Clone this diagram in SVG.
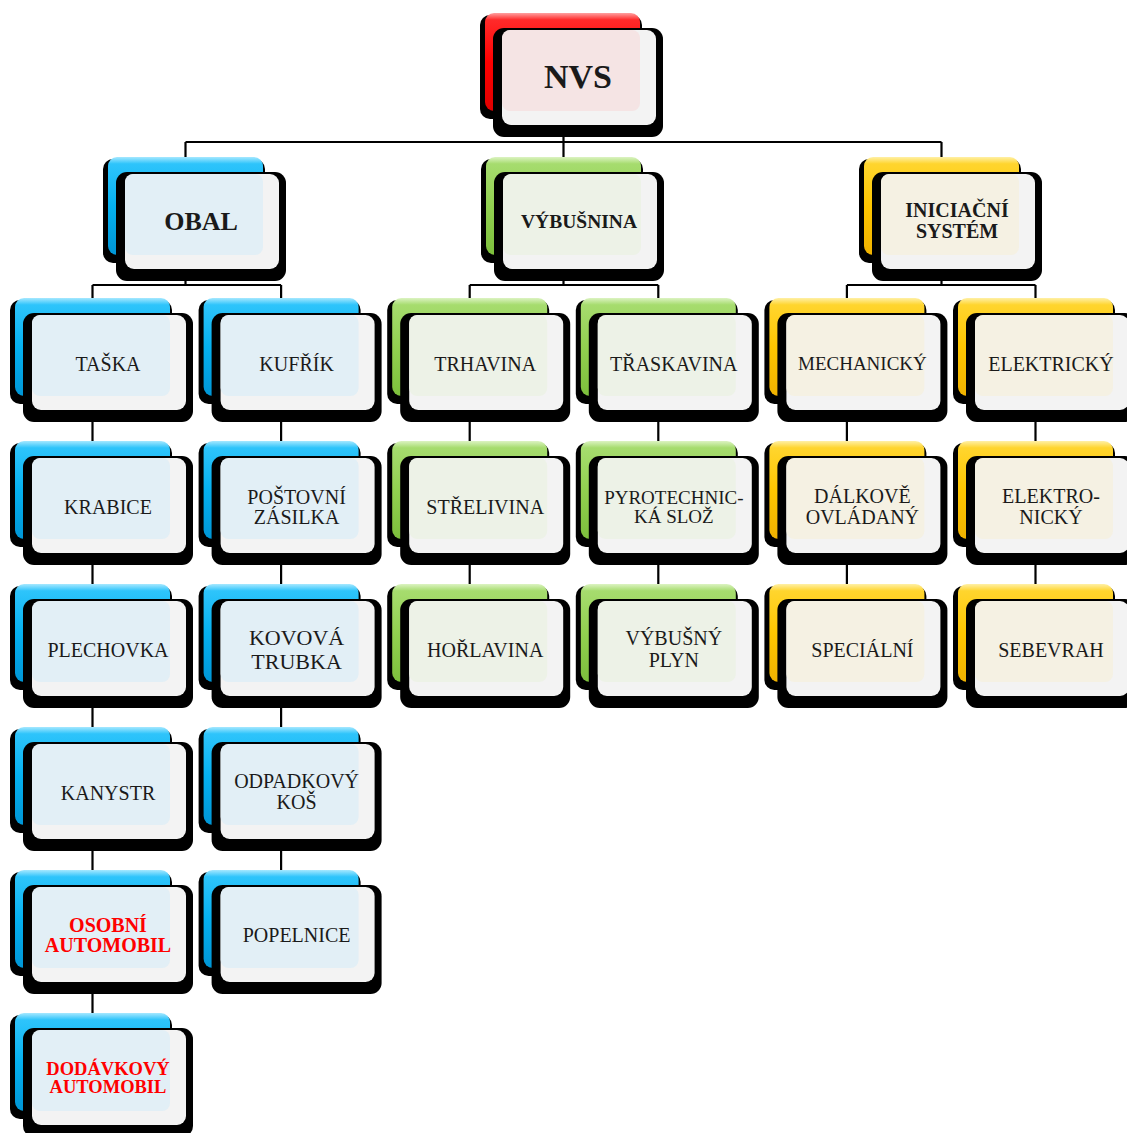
<svg xmlns="http://www.w3.org/2000/svg" xmlns:xlink="http://www.w3.org/1999/xlink" width="1127" height="1133" viewBox="0 0 1127 1133">
<defs>
<linearGradient id="gBlue" x1="0" y1="0" x2="0" y2="1">
<stop offset="0" stop-color="#a6e8ff"/><stop offset="0.07" stop-color="#2ec4fb"/><stop offset="0.5" stop-color="#05b1f0"/><stop offset="1" stop-color="#0096d6"/>
</linearGradient>
<linearGradient id="gRed" x1="0" y1="0" x2="0" y2="1">
<stop offset="0" stop-color="#ffa0a0"/><stop offset="0.07" stop-color="#ff2a2a"/><stop offset="0.5" stop-color="#ff0000"/><stop offset="1" stop-color="#e00000"/>
</linearGradient>
<linearGradient id="gGreen" x1="0" y1="0" x2="0" y2="1">
<stop offset="0" stop-color="#dcf3c2"/><stop offset="0.07" stop-color="#a6dc6e"/><stop offset="0.5" stop-color="#92d050"/><stop offset="1" stop-color="#7dbf3c"/>
</linearGradient>
<linearGradient id="gYellow" x1="0" y1="0" x2="0" y2="1">
<stop offset="0" stop-color="#fff0a6"/><stop offset="0.07" stop-color="#ffd52e"/><stop offset="0.5" stop-color="#ffc600"/><stop offset="1" stop-color="#f0b200"/>
</linearGradient>
</defs>
<style>
.sh{fill:#000}
.fr{fill:#f3f3f3}
.blue .bk{fill:url(#gBlue)} .blue .tn{fill:#e2eff6}
.red .bk{fill:url(#gRed)} .red .tn{fill:#f5e4e4}
.green .bk{fill:url(#gGreen)} .green .tn{fill:#edf2e7}
.yellow .bk{fill:url(#gYellow)} .yellow .tn{fill:#f5f1e3}
.t{font-family:"Liberation Serif","Times New Roman",serif;font-size:20px;fill:#1a1a1a;text-anchor:middle}
.b{font-weight:bold}
.rt{fill:#ff0000}
#connectors path{stroke:#000;stroke-width:2.2;fill:none}
</style>

<g id="connectors">
<path d="M563.5,100 V142 M185.5,142 H941.5 M185.5,142 V170 M563.5,142 V170 M941.5,142 V170"/>
<path d="M185.5,250 V285 M92.5,285 H281.1 M92.5,285 V310 M281.1,285 V310"/>
<path d="M563.5,250 V285 M469.7,285 H658.3 M469.7,285 V310 M658.3,285 V310"/>
<path d="M941.5,250 V285 M846.9,285 H1035.5 M846.9,285 V310 M1035.5,285 V310"/>
<path d="M92.5,350 V1050 M281.1,350 V920 M469.7,350 V640 M658.3,350 V640 M846.9,350 V640 M1035.5,350 V640"/>
</g>

<g id="n-nvs" class="red" transform="translate(485,13)">
<rect class="sh" x="-5" y="2" width="162" height="104" rx="10"/><rect class="bk" width="155" height="98" rx="9"/><rect class="sh" x="8" y="15" width="170" height="109" rx="11"/><rect class="fr" x="17" y="17" width="154" height="95" rx="9"/><rect class="tn" x="17" y="17" width="138" height="81" rx="8"/>
<text class="t b" x="93" y="75" style="font-size:34px">NVS</text>
</g>

<g id="n-obal" class="blue" transform="translate(108,157)">
<rect class="sh" x="-5" y="2" width="162" height="104" rx="10"/><rect class="bk" width="155" height="98" rx="9"/><rect class="sh" x="8" y="15" width="170" height="109" rx="11"/><rect class="fr" x="17" y="17" width="154" height="95" rx="9"/><rect class="tn" x="17" y="17" width="138" height="81" rx="8"/>
<text class="t b" x="93" y="73" style="font-size:26px">OBAL</text>
</g>

<g id="n-vybusnina" class="green" transform="translate(486,157)">
<rect class="sh" x="-5" y="2" width="162" height="104" rx="10"/><rect class="bk" width="155" height="98" rx="9"/><rect class="sh" x="8" y="15" width="170" height="109" rx="11"/><rect class="fr" x="17" y="17" width="154" height="95" rx="9"/><rect class="tn" x="17" y="17" width="138" height="81" rx="8"/>
<text class="t b" x="93" y="71" style="font-size:19.5px">VÝBUŠNINA</text>
</g>

<g id="n-iniciacni" class="yellow" transform="translate(864,157)">
<rect class="sh" x="-5" y="2" width="162" height="104" rx="10"/><rect class="bk" width="155" height="98" rx="9"/><rect class="sh" x="8" y="15" width="170" height="109" rx="11"/><rect class="fr" x="17" y="17" width="154" height="95" rx="9"/><rect class="tn" x="17" y="17" width="138" height="81" rx="8"/>
<text class="t b" x="93" y="60" style="font-size:20px">INICIAČNÍ</text>
<text class="t b" x="93" y="81" style="font-size:20px">SYSTÉM</text>
</g>

<!-- Column A -->
<g id="n-taska" class="blue" transform="translate(15,298)">
<rect class="sh" x="-5" y="2" width="162" height="104" rx="10"/><rect class="bk" width="155" height="98" rx="9"/><rect class="sh" x="8" y="15" width="170" height="109" rx="11"/><rect class="fr" x="17" y="17" width="154" height="95" rx="9"/><rect class="tn" x="17" y="17" width="138" height="81" rx="8"/>
<text class="t" x="93" y="73">TAŠKA</text>
</g>
<g id="n-krabice" class="blue" transform="translate(15,441)">
<rect class="sh" x="-5" y="2" width="162" height="104" rx="10"/><rect class="bk" width="155" height="98" rx="9"/><rect class="sh" x="8" y="15" width="170" height="109" rx="11"/><rect class="fr" x="17" y="17" width="154" height="95" rx="9"/><rect class="tn" x="17" y="17" width="138" height="81" rx="8"/>
<text class="t" x="93" y="73">KRABICE</text>
</g>
<g id="n-plechovka" class="blue" transform="translate(15,584)">
<rect class="sh" x="-5" y="2" width="162" height="104" rx="10"/><rect class="bk" width="155" height="98" rx="9"/><rect class="sh" x="8" y="15" width="170" height="109" rx="11"/><rect class="fr" x="17" y="17" width="154" height="95" rx="9"/><rect class="tn" x="17" y="17" width="138" height="81" rx="8"/>
<text class="t" x="93" y="73">PLECHOVKA</text>
</g>
<g id="n-kanystr" class="blue" transform="translate(15,727)">
<rect class="sh" x="-5" y="2" width="162" height="104" rx="10"/><rect class="bk" width="155" height="98" rx="9"/><rect class="sh" x="8" y="15" width="170" height="109" rx="11"/><rect class="fr" x="17" y="17" width="154" height="95" rx="9"/><rect class="tn" x="17" y="17" width="138" height="81" rx="8"/>
<text class="t" x="93" y="73">KANYSTR</text>
</g>
<g id="n-osobni" class="blue" transform="translate(15,870)">
<rect class="sh" x="-5" y="2" width="162" height="104" rx="10"/><rect class="bk" width="155" height="98" rx="9"/><rect class="sh" x="8" y="15" width="170" height="109" rx="11"/><rect class="fr" x="17" y="17" width="154" height="95" rx="9"/><rect class="tn" x="17" y="17" width="138" height="81" rx="8"/>
<text class="t b rt" x="93" y="62" style="font-size:20px">OSOBNÍ</text>
<text class="t b rt" x="93" y="82" style="font-size:20px">AUTOMOBIL</text>
</g>
<g id="n-dodavkovy" class="blue" transform="translate(15,1013)">
<rect class="sh" x="-5" y="2" width="162" height="104" rx="10"/><rect class="bk" width="155" height="98" rx="9"/><rect class="sh" x="8" y="15" width="170" height="109" rx="11"/><rect class="fr" x="17" y="17" width="154" height="95" rx="9"/><rect class="tn" x="17" y="17" width="138" height="81" rx="8"/>
<text class="t b rt" x="93" y="62" style="font-size:18.5px">DODÁVKOVÝ</text>
<text class="t b rt" x="93" y="80" style="font-size:18.5px">AUTOMOBIL</text>
</g>

<!-- Column B -->
<g id="n-kufrik" class="blue" transform="translate(203.6,298)">
<rect class="sh" x="-5" y="2" width="162" height="104" rx="10"/><rect class="bk" width="155" height="98" rx="9"/><rect class="sh" x="8" y="15" width="170" height="109" rx="11"/><rect class="fr" x="17" y="17" width="154" height="95" rx="9"/><rect class="tn" x="17" y="17" width="138" height="81" rx="8"/>
<text class="t" x="93" y="73">KUFŘÍK</text>
</g>
<g id="n-postovni" class="blue" transform="translate(203.6,441)">
<rect class="sh" x="-5" y="2" width="162" height="104" rx="10"/><rect class="bk" width="155" height="98" rx="9"/><rect class="sh" x="8" y="15" width="170" height="109" rx="11"/><rect class="fr" x="17" y="17" width="154" height="95" rx="9"/><rect class="tn" x="17" y="17" width="138" height="81" rx="8"/>
<text class="t" x="93" y="63">POŠTOVNÍ</text>
<text class="t" x="93" y="83">ZÁSILKA</text>
</g>
<g id="n-kovova" class="blue" transform="translate(203.6,584)">
<rect class="sh" x="-5" y="2" width="162" height="104" rx="10"/><rect class="bk" width="155" height="98" rx="9"/><rect class="sh" x="8" y="15" width="170" height="109" rx="11"/><rect class="fr" x="17" y="17" width="154" height="95" rx="9"/><rect class="tn" x="17" y="17" width="138" height="81" rx="8"/>
<text class="t" x="93" y="61" style="font-size:22px">KOVOVÁ</text>
<text class="t" x="93" y="85" style="font-size:22px">TRUBKA</text>
</g>
<g id="n-odpadkovy" class="blue" transform="translate(203.6,727)">
<rect class="sh" x="-5" y="2" width="162" height="104" rx="10"/><rect class="bk" width="155" height="98" rx="9"/><rect class="sh" x="8" y="15" width="170" height="109" rx="11"/><rect class="fr" x="17" y="17" width="154" height="95" rx="9"/><rect class="tn" x="17" y="17" width="138" height="81" rx="8"/>
<text class="t" x="93" y="61">ODPADKOVÝ</text>
<text class="t" x="93" y="82">KOŠ</text>
</g>
<g id="n-popelnice" class="blue" transform="translate(203.6,870)">
<rect class="sh" x="-5" y="2" width="162" height="104" rx="10"/><rect class="bk" width="155" height="98" rx="9"/><rect class="sh" x="8" y="15" width="170" height="109" rx="11"/><rect class="fr" x="17" y="17" width="154" height="95" rx="9"/><rect class="tn" x="17" y="17" width="138" height="81" rx="8"/>
<text class="t" x="93" y="72">POPELNICE</text>
</g>

<!-- Column C -->
<g id="n-trhavina" class="green" transform="translate(392.2,298)">
<rect class="sh" x="-5" y="2" width="162" height="104" rx="10"/><rect class="bk" width="155" height="98" rx="9"/><rect class="sh" x="8" y="15" width="170" height="109" rx="11"/><rect class="fr" x="17" y="17" width="154" height="95" rx="9"/><rect class="tn" x="17" y="17" width="138" height="81" rx="8"/>
<text class="t" x="93" y="73">TRHAVINA</text>
</g>
<g id="n-strelivina" class="green" transform="translate(392.2,441)">
<rect class="sh" x="-5" y="2" width="162" height="104" rx="10"/><rect class="bk" width="155" height="98" rx="9"/><rect class="sh" x="8" y="15" width="170" height="109" rx="11"/><rect class="fr" x="17" y="17" width="154" height="95" rx="9"/><rect class="tn" x="17" y="17" width="138" height="81" rx="8"/>
<text class="t" x="93" y="73">STŘELIVINA</text>
</g>
<g id="n-horlavina" class="green" transform="translate(392.2,584)">
<rect class="sh" x="-5" y="2" width="162" height="104" rx="10"/><rect class="bk" width="155" height="98" rx="9"/><rect class="sh" x="8" y="15" width="170" height="109" rx="11"/><rect class="fr" x="17" y="17" width="154" height="95" rx="9"/><rect class="tn" x="17" y="17" width="138" height="81" rx="8"/>
<text class="t" x="93" y="73">HOŘLAVINA</text>
</g>

<!-- Column D -->
<g id="n-traskavina" class="green" transform="translate(580.8,298)">
<rect class="sh" x="-5" y="2" width="162" height="104" rx="10"/><rect class="bk" width="155" height="98" rx="9"/><rect class="sh" x="8" y="15" width="170" height="109" rx="11"/><rect class="fr" x="17" y="17" width="154" height="95" rx="9"/><rect class="tn" x="17" y="17" width="138" height="81" rx="8"/>
<text class="t" x="93" y="73">TŘASKAVINA</text>
</g>
<g id="n-pyrotechnicka" class="green" transform="translate(580.8,441)">
<rect class="sh" x="-5" y="2" width="162" height="104" rx="10"/><rect class="bk" width="155" height="98" rx="9"/><rect class="sh" x="8" y="15" width="170" height="109" rx="11"/><rect class="fr" x="17" y="17" width="154" height="95" rx="9"/><rect class="tn" x="17" y="17" width="138" height="81" rx="8"/>
<text class="t" x="93" y="63" style="font-size:19px">PYROTECHNIC-</text>
<text class="t" x="93" y="82" style="font-size:19px">KÁ SLOŽ</text>
</g>
<g id="n-vybusny" class="green" transform="translate(580.8,584)">
<rect class="sh" x="-5" y="2" width="162" height="104" rx="10"/><rect class="bk" width="155" height="98" rx="9"/><rect class="sh" x="8" y="15" width="170" height="109" rx="11"/><rect class="fr" x="17" y="17" width="154" height="95" rx="9"/><rect class="tn" x="17" y="17" width="138" height="81" rx="8"/>
<text class="t" x="93" y="61">VÝBUŠNÝ</text>
<text class="t" x="93" y="83">PLYN</text>
</g>

<!-- Column E -->
<g id="n-mechanicky" class="yellow" transform="translate(769.4,298)">
<rect class="sh" x="-5" y="2" width="162" height="104" rx="10"/><rect class="bk" width="155" height="98" rx="9"/><rect class="sh" x="8" y="15" width="170" height="109" rx="11"/><rect class="fr" x="17" y="17" width="154" height="95" rx="9"/><rect class="tn" x="17" y="17" width="138" height="81" rx="8"/>
<text class="t" x="93" y="72" style="font-size:19px">MECHANICKÝ</text>
</g>
<g id="n-dalkove" class="yellow" transform="translate(769.4,441)">
<rect class="sh" x="-5" y="2" width="162" height="104" rx="10"/><rect class="bk" width="155" height="98" rx="9"/><rect class="sh" x="8" y="15" width="170" height="109" rx="11"/><rect class="fr" x="17" y="17" width="154" height="95" rx="9"/><rect class="tn" x="17" y="17" width="138" height="81" rx="8"/>
<text class="t" x="93" y="62">DÁLKOVĚ</text>
<text class="t" x="93" y="83">OVLÁDANÝ</text>
</g>
<g id="n-specialni" class="yellow" transform="translate(769.4,584)">
<rect class="sh" x="-5" y="2" width="162" height="104" rx="10"/><rect class="bk" width="155" height="98" rx="9"/><rect class="sh" x="8" y="15" width="170" height="109" rx="11"/><rect class="fr" x="17" y="17" width="154" height="95" rx="9"/><rect class="tn" x="17" y="17" width="138" height="81" rx="8"/>
<text class="t" x="93" y="73">SPECIÁLNÍ</text>
</g>

<!-- Column F -->
<g id="n-elektricky" class="yellow" transform="translate(958,298)">
<rect class="sh" x="-5" y="2" width="162" height="104" rx="10"/><rect class="bk" width="155" height="98" rx="9"/><rect class="sh" x="8" y="15" width="170" height="109" rx="11"/><rect class="fr" x="17" y="17" width="154" height="95" rx="9"/><rect class="tn" x="17" y="17" width="138" height="81" rx="8"/>
<text class="t" x="93" y="73">ELEKTRICKÝ</text>
</g>
<g id="n-elektronicky" class="yellow" transform="translate(958,441)">
<rect class="sh" x="-5" y="2" width="162" height="104" rx="10"/><rect class="bk" width="155" height="98" rx="9"/><rect class="sh" x="8" y="15" width="170" height="109" rx="11"/><rect class="fr" x="17" y="17" width="154" height="95" rx="9"/><rect class="tn" x="17" y="17" width="138" height="81" rx="8"/>
<text class="t" x="93" y="62">ELEKTRO-</text>
<text class="t" x="93" y="83">NICKÝ</text>
</g>
<g id="n-sebevrah" class="yellow" transform="translate(958,584)">
<rect class="sh" x="-5" y="2" width="162" height="104" rx="10"/><rect class="bk" width="155" height="98" rx="9"/><rect class="sh" x="8" y="15" width="170" height="109" rx="11"/><rect class="fr" x="17" y="17" width="154" height="95" rx="9"/><rect class="tn" x="17" y="17" width="138" height="81" rx="8"/>
<text class="t" x="93" y="73">SEBEVRAH</text>
</g>
</svg>
